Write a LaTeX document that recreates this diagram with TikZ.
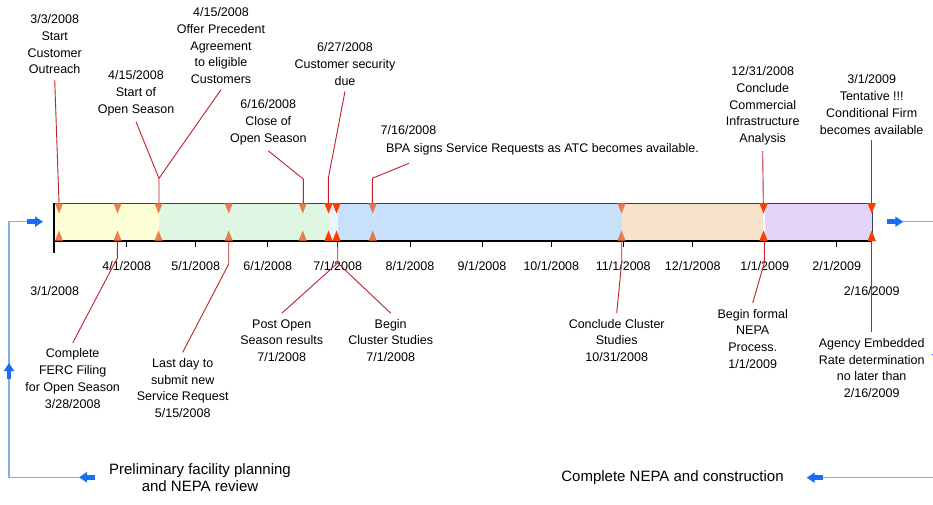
\documentclass[tikz,border=0pt]{standalone}
\usepackage{fontspec}
\setmainfont{Liberation Sans}
\usetikzlibrary{arrows.meta}
\definecolor{cYellow}{HTML}{FFFFD6}
\definecolor{cGreen}{HTML}{DEF6E2}
\definecolor{cGap}{HTML}{EEF4FF}
\definecolor{cBlue}{HTML}{C9E0FB}
\definecolor{cPeach}{HTML}{F7E2CC}
\definecolor{cPurple}{HTML}{E4D4FA}
\definecolor{cLead}{HTML}{C0202A}
\definecolor{cMark}{HTML}{E8602E}
\definecolor{cBright}{HTML}{FF3C00}
\definecolor{cLoop}{HTML}{7DB1E6}
\definecolor{cArrow}{HTML}{1A6BF5}
\definecolor{cEdge}{HTML}{404040}
\begin{document}
\begin{tikzpicture}[x=1pt,y=-1pt,
  lbl/.style={font=\fontsize{12.5}{16.7}\selectfont, align=center, inner sep=0pt, outer ysep=6pt, outer xsep=0pt},
  tick label/.style={font=\fontsize{12.5}{15}\selectfont, inner sep=0pt},
  big/.style={font=\fontsize{15}{16.7}\selectfont, align=center, inner sep=0pt},
  lead/.style={draw=cLead, line width=0.9pt},
  mkmuted/.style={fill=cMark, fill opacity=0.8},
  mkbright/.style={fill=cBright},
  loopline/.style={draw=cLoop, line width=1.2pt},
  blockarrow/.style={draw=cArrow, line width=4.5pt, -{Triangle[length=8pt,width=10pt]}},
  tickmark/.style={draw=black, line width=1pt}
]
\useasboundingbox (0,0) rectangle (933,504);

% ---- bar segments
\fill[cYellow] (54,203) rectangle (159,241);
\fill[cGreen] (159,203) rectangle (328.5,241);
\fill[cGap] (328.5,203) rectangle (337.7,241);
\fill[cBlue] (337.7,203) rectangle (621.5,241);
\fill[cPeach] (621.5,203) rectangle (763.3,241);
\fill[cPurple] (765.3,203) rectangle (871.7,241);
\draw[cEdge, line width=1pt] (54,203) -- (872,203);
\draw[cEdge, line width=1pt] (872,203) -- (872,241);
\draw[black, line width=1.2pt] (54,241) -- (872,241);
\draw[black, line width=1.2pt] (54,203) -- (54,253);

% ---- ticks
\foreach \x in {126.7,195.7,267.7,337.7,410,482,551.3,623.3,692.7,764.7,836.7}{
  \draw[tickmark] (\x,241) -- (\x,247);
}
\node[tick label] (d0401) at (126.7,266) {4/1/2008};
\node[tick label] (d0501) at (195.7,266) {5/1/2008};
\node[tick label] (d0601) at (267.7,266) {6/1/2008};
\node[tick label] (d0701) at (337.7,266) {7/1/2008};
\node[tick label] (d0801) at (410,266) {8/1/2008};
\node[tick label] (d0901) at (482,266) {9/1/2008};
\node[tick label] (d1001) at (551.3,266) {10/1/2008};
\node[tick label] (d1101) at (623.3,266) {11/1/2008};
\node[tick label] (d1201) at (692.7,266) {12/1/2008};
\node[tick label] (d0109) at (764.7,266) {1/1/2009};
\node[tick label] (d0209) at (836.7,266) {2/1/2009};
\node[tick label] (dstart) at (54.7,290.7) {3/1/2008};
\node[tick label] (dend) at (871.7,290.7) {2/16/2009};

% ---- markers
\foreach \x in {59,117.5,158.5,228.7,302.7,372.7,621.5}{
  \fill[mkmuted] (\x-4.2,203) -- (\x+4.2,203) -- (\x,213.5) -- cycle;
  \fill[mkmuted] (\x-4.2,241) -- (\x+4.2,241) -- (\x,230.5) -- cycle;
}
\foreach \x in {328.5,336.5,763.5,871.7}{
  \fill[mkbright] (\x-4.2,203) -- (\x+4.2,203) -- (\x,213.5) -- cycle;
  \fill[mkbright] (\x-4.2,241) -- (\x+4.2,241) -- (\x,230.5) -- cycle;
}

% ---- top labels
\node[lbl] (l1) at (54.7,44.2) {3/3/2008\\Start\\Customer\\Outreach};
\node[lbl] (l2) at (136,93.3) {4/15/2008\\Start of\\Open Season};
\node[lbl] (l3) at (221,45.7) {4/15/2008\\Offer Precedent\\Agreement\\to eligible\\Customers};
\node[lbl] (l4) at (268.3,122.3) {6/16/2008\\Close of\\Open Season};
\node[lbl] (l5) at (345,64) {6/27/2008\\Customer security\\due};
\node[lbl, anchor=west] (l6a) at (380.7,130) {7/16/2008};
\node[lbl, anchor=west] (l6b) at (386,149) {BPA signs Service Requests as ATC becomes available.};
\node[lbl] (l7) at (762.7,106) {12/31/2008\\Conclude\\Commercial\\Infrastructure\\Analysis};
\node[lbl] (l8) at (871.7,104.5) {3/1/2009\\Tentative !!!\\Conditional Firm\\becomes available};

% ---- bottom labels
\node[lbl] (l9) at (72.7,378.5) {Complete\\FERC Filing\\for Open Season\\3/28/2008};
\node[lbl] (l10) at (182.7,388) {Last day to\\submit new\\Service Request\\5/15/2008};
\node[lbl] (l11) at (281.7,340.5) {Post Open\\Season results\\7/1/2008};
\node[lbl] (l12) at (390.7,340.5) {Begin\\Cluster Studies\\7/1/2008};
\node[lbl] (l13) at (616.7,340.5) {Conclude Cluster\\Studies\\10/31/2008};
\node[lbl] (l14) at (752.7,338.7) {Begin formal\\NEPA\\Process.\\1/1/2009};
\node[lbl] (l15) at (871.7,368) {Agency Embedded\\Rate determination\\no later than\\2/16/2009};

% ---- leader bend points
\coordinate (m1) at (59,203);
\coordinate (b2) at (159,178.3);
\coordinate (m2) at (159,203);
\coordinate (b4) at (303.3,179);
\coordinate (m4) at (303.3,203);
\coordinate (b5) at (328.3,178.3);
\coordinate (m5) at (328.3,203);
\coordinate (s6) at (409,163.3);
\coordinate (b6) at (372.3,178.3);
\coordinate (m6) at (372.3,203);
\coordinate (m7) at (763.3,203);
\coordinate (m8) at (871.7,203);
\coordinate (b9) at (117.3,258);
\coordinate (n9) at (117.3,241);
\coordinate (b10) at (228.7,264);
\coordinate (n10) at (228.7,241);
\coordinate (b11) at (337.7,263);
\coordinate (n11) at (337.7,241);
\coordinate (b13) at (621.7,262);
\coordinate (n13) at (621.7,241);
\coordinate (b14) at (764.5,262);
\coordinate (n14) at (764.5,241);
\coordinate (n15) at (871.7,241);

\draw[lead] (l1.south) -- (m1);
\draw[lead] (l2.south) -- (b2) -- (m2);
\draw[lead] (l3.south) -- (b2);
\draw[lead] (l4.south) -- (b4) -- (m4);
\draw[lead] (l5.south) -- (b5) -- (m5);
\draw[lead] (s6) -- (b6) -- (m6);
\draw[lead] (l7.south) -- (m7);
\draw[lead] (l8.south) -- (m8);
\draw[lead] (l9.north) -- (b9) -- (n9);
\draw[lead] (l10.north) -- (b10) -- (n10);
\draw[lead] (l11.north) -- (b11) -- (n11);
\draw[lead] (l12.north) -- (b11);
\draw[lead] (l13.north) -- (b13) -- (n13);
\draw[lead] (l14.north) -- (b14) -- (n14);
\draw[lead] (l15.north) -- (n15);

% ---- phase texts
\node[big] (p1) at (200,477.7) {Preliminary facility planning\\and NEPA review};
\node[big] (p2) at (672.5,477.7) {Complete NEPA and construction};

% ---- blue loops
\coordinate (lt) at (9,221.7);
\coordinate (lb) at (9,477.3);
\coordinate (la1) at (27,221.7);
\coordinate (la2) at (43,221.7);
\coordinate (lu1) at (9,379);
\coordinate (lu2) at (9,363);
\coordinate (ll1) at (95,477.3);
\coordinate (ll2) at (79,477.3);
\draw[loopline] (la1) -- (lt) -- (lb) -- (ll2);
\draw[blockarrow] (la1) -- (la2);
\draw[blockarrow] (lu1) -- (lu2);
\draw[blockarrow] (ll1) -- (ll2);

\coordinate (rt) at (937,221.7);
\coordinate (rb) at (937,477.7);
\coordinate (ra1) at (887.3,221.7);
\coordinate (ra2) at (903.3,221.7);
\coordinate (rl1) at (822.7,477.7);
\coordinate (rl2) at (806.7,477.7);
\coordinate (rd1) at (937,350);
\coordinate (rd2) at (937,362);
\draw[loopline] (ra2) -- (rt) -- (rb) -- (rl1);
\draw[blockarrow] (ra1) -- (ra2);
\draw[blockarrow] (rl1) -- (rl2);
\draw[blockarrow] (rd1) -- (rd2);
\end{tikzpicture}
\end{document}
